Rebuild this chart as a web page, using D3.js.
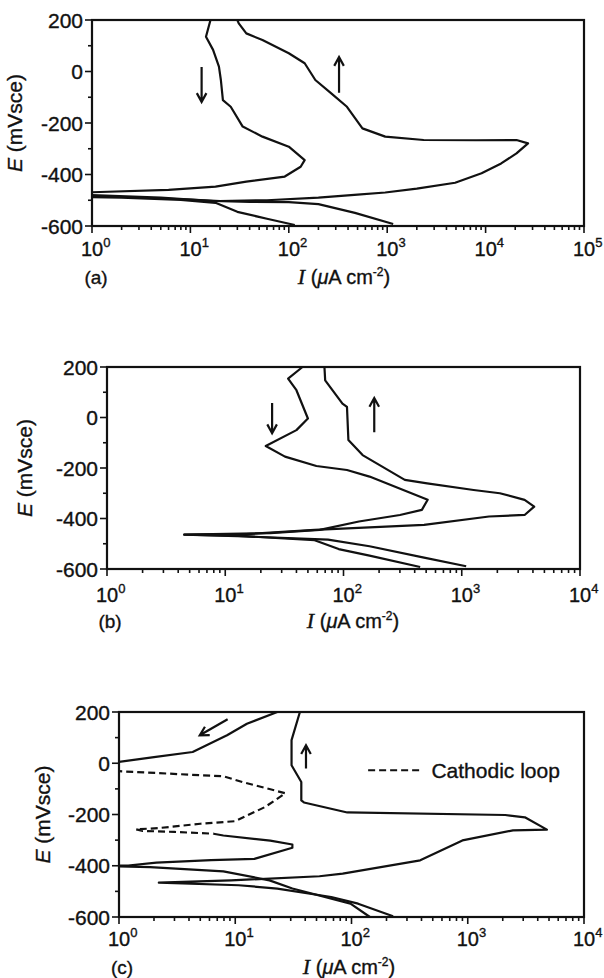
<!DOCTYPE html>
<html>
<head>
<meta charset="utf-8">
<script src="https://cdnjs.cloudflare.com/ajax/libs/d3/7.8.5/d3.min.js"></script>
<style>
  body { margin: 0; background: #fff; }
  text { fill: #111; stroke: #111; stroke-width: 0.35px; }
</style>
</head>
<body>
<div id="chart"></div>
<script>
// values: [current uA/cm2, potential mV]
const aForward = [[115,-596],[60,-572],[30,-545],[18,-510],[8,-499],[2,-490],[0.6,-487],[2,-488],[10,-497],[20,-503],
  [60,-500],[200,-490],[500,-478],[955,-470],[2000,-455],[4900,-432],[9100,-395],[14400,-357],[20600,-318],[27000,-279],
  [20600,-266],[8000,-267],[2350,-266],[955,-253],[560,-221],[390,-137],[270,-85],[186,-33],[145,32],[100,71],
  [54,122],[37,148],[31,187],[30,200]];
const aReverse = [[16,200],[14.4,135],[17,84],[19.5,19],[20.4,-33],[21.4,-111],[25.7,-137],[34,-214],[54,-253],
  [100,-292],[145,-344],[132,-370],[91,-408],[37,-428],[18,-447],[6,-460],[1,-469],[0.5,-472],[0.5,-478],[1,-480],
  [5,-490],[17,-503],[40,-506],[100,-507],[200,-515],[470,-549],[1150,-592]];

const bForward = [[1090,-589],[480,-555],[166,-510],[74,-484],[15,-471],[4.5,-464],[15,-462],[57,-445],[480,-425],
  [1700,-392],[3400,-386],[4100,-353],[3400,-326],[2100,-300],[1260,-287],[510,-261],[330,-247],[145,-149],
  [110,-89],[107,42],[98,55],[70,147],[69,200]];
const bReverse = [[45,200],[34,154],[40,108],[50,-4],[40,-50],[22,-113],[32,-155],[59,-192],[107,-208],[166,-234],
  [515,-326],[460,-366],[300,-386],[135,-412],[63,-445],[24,-458],[4.5,-464],[12,-468],[57,-486],[91,-521],
  [166,-547],[445,-592]];

const cForward = [[228,-597],[114,-548],[67,-522],[23,-489],[10.7,-476],[2.2,-466],[9.2,-457],[53,-441],[84,-431],
  [390,-379],[900,-301],[2450,-262],[4800,-259],[3100,-211],[2100,-202],[92,-192],[39,-153],[37,-145],[37,-73],
  [30.5,-8],[30.5,90],[36,200]];
const cReverseTop = [[23,200],[12.6,154],[8.5,109],[4.3,44],[2,24],[1,5],[0.6,4]];
const cLoop = [[0.6,-31],[1,-31],[7.9,-51],[11.5,-73],[27,-117],[18,-171],[10,-226],[5,-236],[2.2,-253],[1.4,-258],
  [1.6,-264],[3,-268],[6.5,-275]];
const cReverseLow = [[6.5,-275],[7.9,-282],[20,-302],[31,-317],[31,-330],[14.6,-373],[6.2,-378],[2.1,-388],
  [1.2,-399],[0.7,-401],[1.85,-405],[7.9,-422],[19.7,-457],[31,-489],[98,-548],[144,-600]];

const yTicks = [200, 0, -200, -400, -600];
const arrowsA = [[[13,17],[13,-118]], [[324,-83],[324,56]]];
const arrowsB = [[[24.9,57],[24.9,-62]], [[182,-58],[182,77]]];
const arrowsC = [[[8.6,172],[4.95,109]], [[40.6,-20],[40.6,70]]];

const width = 604, height = 978;
const svg = d3.select("#chart").append("svg")
  .attr("width", width).attr("height", height)
  .style("font-family", "'Liberation Sans', Arial, sans-serif");

const panels = [
  { id: "a", left: 92, right: 584, top: 20, bottom: 226, maxExp: 5,
    lines: [{ d: aForward }, { d: aReverse }], arrows: arrowsA, tag: "(a)",
    tagX: 96, titleX: 344, labelX: 14, tickY: 256, titleY: 284 },
  { id: "b", left: 107, right: 580, top: 367, bottom: 569, maxExp: 4,
    lines: [{ d: bForward }, { d: bReverse }], arrows: arrowsB, tag: "(b)",
    tagX: 110, titleX: 353, labelX: 24, tickY: 602, titleY: 628 },
  { id: "c", left: 119, right: 584, top: 712, bottom: 917, maxExp: 4,
    lines: [{ d: cForward }, { d: cReverseTop }, { d: cLoop, dash: true }, { d: cReverseLow }],
    arrows: arrowsC, tag: "(c)", tagX: 122, titleX: 349, labelX: 42, tickY: 946, titleY: 974,
    legend: true }
];

panels.forEach(p => {
  const x = d3.scaleLog().domain([1, Math.pow(10, p.maxExp)]).range([p.left, p.right]);
  const y = d3.scaleLinear().domain([-600, 200]).range([p.bottom, p.top]);
  const g = svg.append("g");

  g.append("clipPath").attr("id", "clip" + p.id)
    .append("rect").attr("x", p.left).attr("y", p.top - 2)
    .attr("width", p.right - p.left).attr("height", p.bottom - p.top + 4);

  // minor + major ticks on x
  const xt = [];
  for (let e = 0; e < p.maxExp; e++)
    for (let k = 1; k < 10; k++) xt.push(k * Math.pow(10, e));
  xt.push(Math.pow(10, p.maxExp));
  g.selectAll(".xt").data(xt).enter().append("line")
    .attr("x1", d => x(d)).attr("x2", d => x(d))
    .attr("y1", p.bottom).attr("y2", d => p.bottom + (Math.abs(Math.log10(d) % 1) < 1e-9 ? 7 : 4))
    .attr("stroke", "#111").attr("stroke-width", 1.6);

  const yt = d3.range(-600, 201, 100);
  g.selectAll(".yt").data(yt).enter().append("line")
    .attr("y1", d => y(d)).attr("y2", d => y(d))
    .attr("x1", p.left).attr("x2", d => p.left - (d % 200 === 0 ? 7 : 4))
    .attr("stroke", "#111").attr("stroke-width", 1.6);

  g.append("rect").attr("x", p.left).attr("y", p.top)
    .attr("width", p.right - p.left).attr("height", p.bottom - p.top)
    .attr("fill", "none").attr("stroke", "#111").attr("stroke-width", 2.2);

  // tick labels
  g.selectAll(".yl").data(yTicks).enter().append("text")
    .attr("x", p.left - 9).attr("y", d => y(d) + 7.5)
    .attr("text-anchor", "end").attr("font-size", 21)
    .text(d => d);

  const xl = g.selectAll(".xl").data(d3.range(0, p.maxExp + 1)).enter().append("text")
    .attr("x", d => x(Math.pow(10, d)) - 11).attr("y", p.tickY)
    .attr("font-size", 20);
  xl.append("tspan").text("10");
  xl.append("tspan").attr("font-size", 13).attr("dy", -9).text(d => d);

  // axis titles
  const t = g.append("text").attr("x", p.titleX).attr("y", p.titleY)
    .attr("text-anchor", "middle").attr("font-size", 20);
  t.append("tspan").attr("font-family", "'Liberation Serif', serif").attr("font-style", "italic")
    .attr("font-size", 22).text("I");
  t.append("tspan").text(" (");
  t.append("tspan").attr("font-style", "italic").text("\u03bc");
  t.append("tspan").text("A cm");
  t.append("tspan").attr("font-size", 12).attr("dy", -8).text("-2");
  t.append("tspan").attr("dy", 8).text(")");

  g.append("text").attr("x", p.tagX).attr("y", p.titleY)
    .attr("text-anchor", "middle").attr("font-size", 19).text(p.tag);

  const yc = (p.top + p.bottom) / 2;
  const yl = g.append("text")
    .attr("transform", `translate(${p.labelX + 8},${yc}) rotate(-90)`)
    .attr("text-anchor", "middle").attr("font-size", 21);
  yl.append("tspan").attr("font-style", "italic").text("E");
  yl.append("tspan").text(" (mVsce)");

  // curves
  const line = d3.line().x(d => x(d[0])).y(d => y(d[1]));
  const plot = g.append("g").attr("clip-path", `url(#clip${p.id})`);
  p.lines.forEach(s => {
    plot.append("path").attr("d", line(s.d))
      .attr("fill", "none").attr("stroke", "#111").attr("stroke-width", 2.2)
      .attr("stroke-linejoin", "round")
      .attr("stroke-dasharray", s.dash ? "7,4" : null);
  });

  // direction arrows
  p.arrows.forEach(a => {
    const x0 = x(a[0][0]), y0 = y(a[0][1]), x1 = x(a[1][0]), y1 = y(a[1][1]);
    const ang = Math.atan2(y1 - y0, x1 - x0), L = 10, w = 0.5;
    const h1 = [x1 - L * Math.cos(ang - w), y1 - L * Math.sin(ang - w)];
    const h2 = [x1 - L * Math.cos(ang + w), y1 - L * Math.sin(ang + w)];
    g.append("path")
      .attr("d", `M${x0},${y0}L${x1},${y1}M${h1[0]},${h1[1]}L${x1},${y1}L${h2[0]},${h2[1]}`)
      .attr("fill", "none").attr("stroke", "#111").attr("stroke-width", 2.2);
  });

  if (p.legend) {
    g.append("line").attr("x1", x(139)).attr("x2", x(390)).attr("y1", y(-27)).attr("y2", y(-27))
      .attr("stroke", "#111").attr("stroke-width", 2).attr("stroke-dasharray", "7,4");
    g.append("text").attr("x", x(487)).attr("y", y(-27) + 8)
      .attr("font-size", 21).text("Cathodic loop");
  }
});
</script>
</body>
</html>
